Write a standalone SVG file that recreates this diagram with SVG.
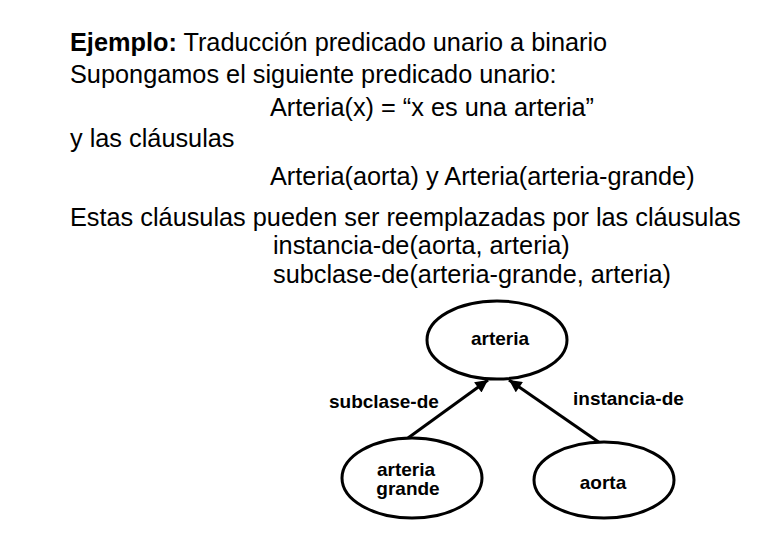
<svg xmlns="http://www.w3.org/2000/svg" width="763" height="547" viewBox="0 0 763 547">
  <style>
    .body { font-family: "Liberation Sans", Arial, sans-serif; font-size: 25.3px; fill: #000; }
    .b { font-weight: bold; }
    .lbl { font-family: "Liberation Sans", Arial, sans-serif; font-size: 19px; font-weight: bold; fill: #000; }
    .node ellipse { fill: #fff; stroke: #000; stroke-width: 3; }
    .edge { stroke: #000; stroke-width: 3; fill: none; marker-end: url(#arrow); }
  </style>
  <defs>
    <marker id="arrow" viewBox="0 0 10 10" refX="10" refY="5" markerWidth="4.5" markerHeight="4.2" markerUnits="strokeWidth" orient="auto">
      <path d="M0,0 L10,5 L0,10 Z" fill="#000"/>
    </marker>
  </defs>
  <rect width="763" height="547" fill="#fff"/>

  <!-- Explanatory text -->
  <g id="text-block">
    <text class="body" x="70" y="51"><tspan class="b">Ejemplo:</tspan> Traducción predicado unario a binario</text>
    <text class="body" x="70" y="83">Supongamos el siguiente predicado unario:</text>
    <text class="body" x="270" y="116">Arteria(x) = “x es una arteria”</text>
    <text class="body" x="70" y="147">y las cláusulas</text>
    <text class="body" x="270" y="185">Arteria(aorta) y Arteria(arteria-grande)</text>
    <text class="body" x="70" y="226">Estas cláusulas pueden ser reemplazadas por las cláusulas</text>
    <text class="body" x="273" y="254">instancia-de(aorta, arteria)</text>
    <text class="body" x="273" y="283">subclase-de(arteria-grande, arteria)</text>
  </g>

  <!-- Connectors -->
  <g id="connectors">
    <line class="edge" x1="408" y1="438" x2="488" y2="380"/>
    <line class="edge" x1="600" y1="443" x2="509" y2="380"/>
    <text class="lbl" x="329" y="408">subclase-de</text>
    <text class="lbl" x="573" y="405">instancia-de</text>
  </g>

  <!-- Nodes -->
  <g id="node-arteria" class="node">
    <ellipse cx="497" cy="340" rx="70" ry="39"/>
    <text class="lbl" x="500" y="345" text-anchor="middle">arteria</text>
  </g>
  <g id="node-arteria-grande" class="node">
    <ellipse cx="412" cy="478" rx="70" ry="40"/>
    <text class="lbl" x="406" y="476" text-anchor="middle">arteria</text>
    <text class="lbl" x="408" y="495" text-anchor="middle">grande</text>
  </g>
  <g id="node-aorta" class="node">
    <ellipse cx="604" cy="480" rx="70" ry="38"/>
    <text class="lbl" x="603" y="489" text-anchor="middle">aorta</text>
  </g>
</svg>
